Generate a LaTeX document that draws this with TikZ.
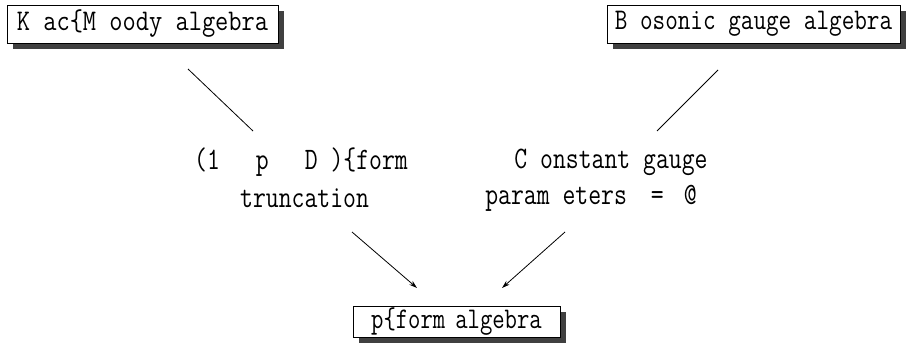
\documentclass[tikz,border=0pt]{standalone}
\usepackage{graphicx}
\usetikzlibrary{shadows,arrows.meta}
\newcommand\dtx[2][1]{\scalebox{#1}[1.25]{#2}}
\begin{document}
\begin{tikzpicture}[x=1pt,y=1pt,
  algbox/.style={draw=black, fill=white, line width=0.9pt, inner sep=0pt,
    font=\ttfamily\fontsize{24}{29}\selectfont,
    drop shadow={shadow xshift=6pt, shadow yshift=-6pt, fill=black!75, opacity=1}},
  lbl/.style={inner sep=0pt, font=\ttfamily\fontsize{25}{30}\selectfont},
  conn/.style={line width=0.8pt, black},
  arr/.style={conn, -{Stealth[length=8pt,width=5pt]}}]
\useasboundingbox (0,0) rectangle (907,354);
\node[algbox, minimum width=271pt, minimum height=38pt] (kac) at (142.5,330) {\dtx[1.07]{K ac\{M oody algebra}};
\node[algbox, minimum width=293pt, minimum height=38pt] (bos) at (753.5,330) {\dtx[1.02]{B osonic gauge algebra}};
\node[algbox, minimum width=207pt, minimum height=31pt] (pform) at (456.5,32.5) {\dtx{p\{form\hspace{10pt}algebra}};
\node[lbl] (trunc1) at (301,192) {\dtx{(1\hspace{36pt}p\hspace{36pt}D )\{form}};
\node[lbl] (trunc2) at (304.5,156) {\dtx{truncation}};
\node[lbl] (const1) at (611,192) {\dtx{C onstant gauge}};
\node[lbl] (const2) at (591,156) {\dtx{param eters\hspace{24pt}=\hspace{20pt}@}};
\coordinate (kacE) at (188,285);
\coordinate (truncS) at (253,223);
\coordinate (bosE) at (718,284);
\coordinate (constS) at (657,223);
\coordinate (truncE) at (352,122);
\coordinate (pformL) at (417,66);
\coordinate (constE) at (565,122);
\coordinate (pformR) at (502,66);
\draw[conn] (kacE) -- (truncS);
\draw[conn] (bosE) -- (constS);
\draw[arr] (truncE) -- (pformL);
\draw[arr] (constE) -- (pformR);
\end{tikzpicture}
\end{document}
